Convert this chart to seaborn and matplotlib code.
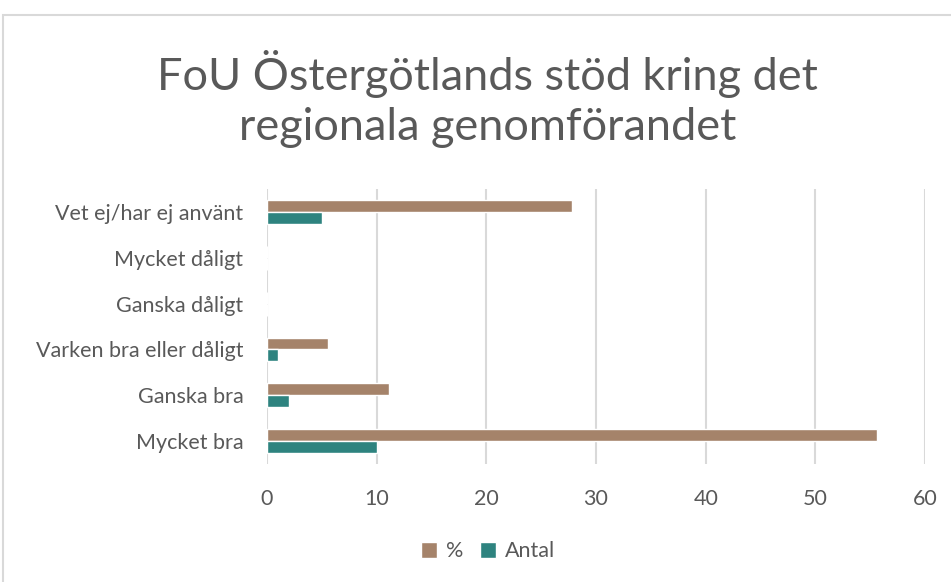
import matplotlib.pyplot as plt
import matplotlib.patches as mpatches
import seaborn as sns
import pandas as pd

# data
categories = ["Vet ej/har ej använt", "Mycket dåligt", "Ganska dåligt",
              "Varken bra eller dåligt", "Ganska bra", "Mycket bra"]
procent = [27.8, 0, 0, 5.6, 11.1, 55.6]
antal = [5, 0, 0, 1, 2, 10]
series = ["%", "Antal"]
x_ticks = [0, 10, 20, 30, 40, 50, 60]

df = pd.DataFrame({
    "kategori": categories * 2,
    "serie": [series[0]] * len(categories) + [series[1]] * len(categories),
    "varde": procent + antal,
})

sns.set_theme(style="white")
plt.rcParams['font.family'] = ['Lato', 'DejaVu Sans']
text_col = "#595959"

fig = plt.figure(figsize=(9.51, 5.82), dpi=100)
ax = fig.add_axes([0.2808, 0.2027, 0.6919, 0.4723])

sns.barplot(data=df, y="kategori", x="varde", hue="serie", order=categories,
            hue_order=series, palette=["#A5836A", "#2E837F"], width=0.52,
            orient="h", saturation=1, ax=ax, zorder=3)

ax.set_xlim(0, 60)
ax.set_xticks(x_ticks)
ax.grid(axis="x", color="#D9D9D9", linewidth=1.5, zorder=0)
ax.set_axisbelow(True)
sns.despine(ax=ax, left=True, bottom=True)
ax.set_xlabel("")
ax.set_ylabel("")
ax.tick_params(axis="both", length=0, labelsize=15.5, labelcolor=text_col)
ax.tick_params(axis="x", pad=18)
ax.tick_params(axis="y", pad=17)

ax.legend(loc="center", bbox_to_anchor=(0.513, 0.053), bbox_transform=fig.transFigure,
          ncol=2, frameon=False, fontsize=15.5, labelcolor=text_col,
          handlelength=0.75, handleheight=0.75, handletextpad=0.4, columnspacing=0.8)

fig.text(0.513, 0.83, "FoU Östergötlands stöd kring det\nregionala genomförandet",
         ha="center", va="center", fontsize=32.5, color=text_col, linespacing=1.25)

# outer chart border
fig.patches.append(mpatches.Rectangle((3 / 951, -0.02), 1.0, 1 - 15 / 582 + 0.02,
                                      transform=fig.transFigure, fill=False,
                                      edgecolor="#D9D9D9", linewidth=1.5))

fig.savefig("out.png", dpi=100)
